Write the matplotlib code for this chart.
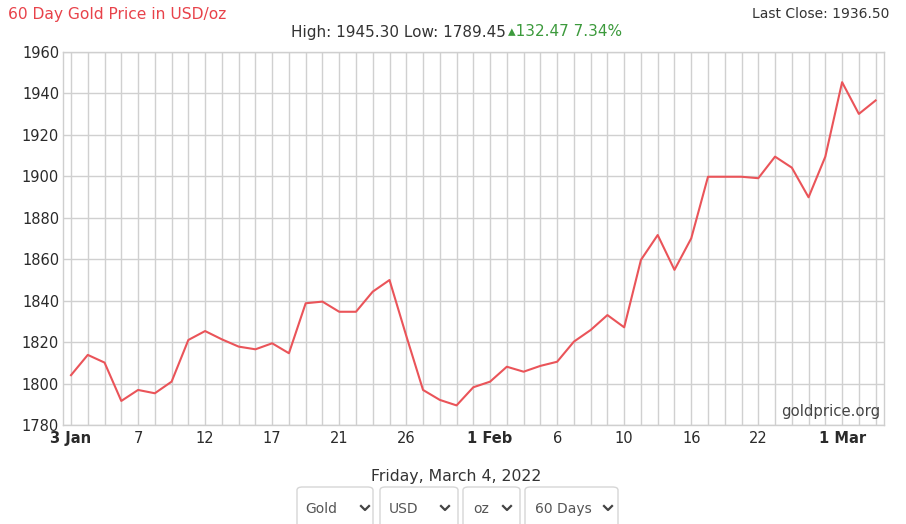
import matplotlib
matplotlib.use("Agg")
import matplotlib.pyplot as plt
from matplotlib.patches import FancyBboxPatch
from matplotlib.lines import Line2D

# Daily gold price (USD/oz), 3 Jan - 4 Mar 2022
prices = [1804.03, 1813.8, 1810.1, 1791.6, 1796.9, 1795.3, 1800.9, 1821.0, 1825.3,
          1821.3, 1817.8, 1816.5, 1819.4, 1814.6, 1838.7, 1839.5, 1834.6, 1834.6,
          1844.3, 1849.9, 1823.0, 1796.9, 1792.1, 1789.45, 1798.2, 1800.9, 1808.1,
          1805.7, 1808.5, 1810.5, 1820.2, 1825.8, 1833.0, 1827.1, 1859.6, 1871.6,
          1854.8, 1870.0, 1899.7, 1899.7, 1899.7, 1899.0, 1909.4, 1904.1, 1889.8,
          1909.4, 1945.30, 1930.0, 1936.50]
tick_idx = [0, 4, 8, 12, 16, 20, 25, 29, 33, 37, 41, 46]
tick_labels = ["3 Jan", "7", "12", "17", "21", "26", "1 Feb", "6", "10", "16", "22", "1 Mar"]
y_ticks = [1780, 1800, 1820, 1840, 1860, 1880, 1900, 1920, 1940, 1960]
selectors = ["Gold", "USD", "oz", "60 Days"]
date_text = "Friday, March 4, 2022"

plt.rcParams['font.family'] = ['DejaVu Sans']
W, H = 906, 524
fig = plt.figure(figsize=(W / 100, H / 100), dpi=100)


def fx(x):
    return x / W


def fy(y):
    return 1 - y / H


ax = fig.add_axes([fx(63.3), fy(425), fx(884) - fx(63.3), fy(51.7) - fy(425)])
x = list(range(len(prices)))
ax.plot(x, prices, color="#ea5459", lw=1.5, zorder=3)
ax.set_xlim(-0.46, len(prices) - 0.5)
ax.set_ylim(1780, 1960)
ax.set_yticks(y_ticks)
ax.set_yticklabels([str(v) for v in y_ticks], fontsize=10.5, color="#2a2a2a")
ax.set_xticks(list(range(len(prices))), minor=True)
ax.set_xticks(tick_idx)
ax.set_xticklabels(tick_labels, fontsize=10.5, color="#2a2a2a")
for lab in ax.get_xticklabels():
    if not lab.get_text().isdigit():
        lab.set_fontweight("bold")
ax.tick_params(axis="both", which="both", length=0)
ax.tick_params(axis="x", pad=4)
ax.tick_params(axis="y", pad=3)
ax.grid(True, which="both", axis="x", color="#d0d0d0", lw=1)
ax.grid(True, which="major", axis="y", color="#d0d0d0", lw=1)
for s in ax.spines.values():
    s.set_color("#cfcfcf")
    s.set_linewidth(1)
ax.text(0.995, 0.015, "goldprice.org", transform=ax.transAxes, ha="right",
        va="bottom", fontsize=10.7, color="#444444")

# header
first, last = prices[0], prices[-1]
hi, lo = max(prices), min(prices)
chg = last - first
pct = chg / first * 100
fig.text(fx(8), fy(14), "60 Day Gold Price in USD/oz", color="#e8424a",
         fontsize=11.2, ha="left", va="center")
fig.text(fx(889), fy(14), f"Last Close: {last:.2f}", color="#333333",
         fontsize=10, ha="right", va="center")
fig.text(fx(506), fy(32), f"High: {hi:.2f} Low: {lo:.2f}", color="#333333",
         fontsize=11, ha="right", va="center")
fig.text(fx(508), fy(32), f"\u25b4{chg:.2f} {pct:.2f}%", color="#3c9a3c",
         fontsize=11, ha="left", va="center")

# footer
fig.text(fx(456), fy(477), date_text, color="#333333", fontsize=11.3,
         ha="center", va="center")
boxes = [(297, 373, 305, 365), (380, 458, 389, 445), (463, 520, 473, 507),
         (525, 618, 535, 608)]
for label, (x0, x1, tx, cx) in zip(selectors, boxes):
    patch = FancyBboxPatch((fx(x0), fy(530)), fx(x1) - fx(x0), fy(487) - fy(530),
                           boxstyle="round,pad=0,rounding_size=0.006",
                           transform=fig.transFigure, facecolor="white",
                           edgecolor="#d6d6d6", lw=1)
    fig.patches.append(patch)
    fig.text(fx(tx), fy(509), label, color="#555555", fontsize=10,
             ha="left", va="center")
    fig.lines.append(Line2D([fx(cx - 4), fx(cx), fx(cx + 4)],
                            [fy(506), fy(510), fy(506)],
                            transform=fig.transFigure, color="#444444", lw=1.6))

fig.savefig("out.png", dpi=100)
